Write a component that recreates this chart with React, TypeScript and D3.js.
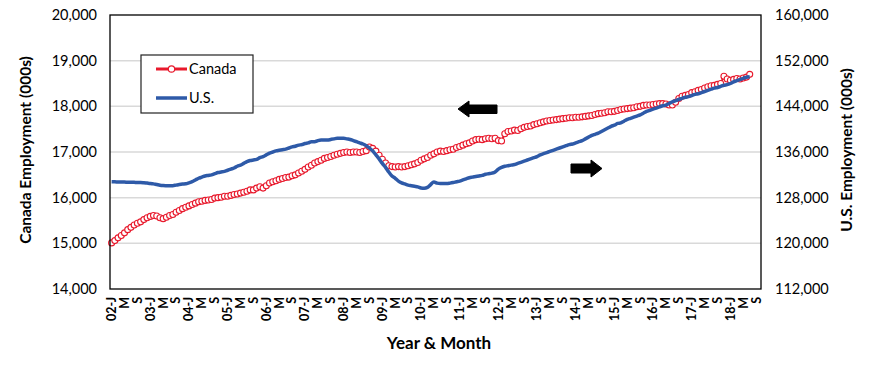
import React, { useEffect, useRef } from "react";
import * as d3 from "d3";

// monthly, Jan 2002 .. Jul 2018 (thousands)
const canada: number[] = [
  15010, 15060, 15120, 15170, 15230, 15300, 15350, 15400, 15440, 15470, 15520, 15560, // 02
  15590, 15610, 15600, 15560, 15540, 15570, 15610, 15630, 15680, 15720, 15760, 15790, // 03
  15820, 15850, 15880, 15910, 15920, 15940, 15950, 15960, 15990, 16000, 16010, 16030, // 04
  16030, 16050, 16070, 16080, 16100, 16120, 16140, 16170, 16170, 16210, 16240, 16210, // 05
  16260, 16320, 16350, 16370, 16400, 16420, 16440, 16450, 16480, 16500, 16540, 16580, // 06
  16620, 16670, 16710, 16760, 16790, 16820, 16860, 16880, 16900, 16930, 16950, 16970, // 07
  16990, 17000, 16990, 17000, 17000, 16990, 17010, 17030, 17110, 17080, 17020, 16930, // 08
  16840, 16760, 16700, 16680, 16670, 16680, 16670, 16680, 16700, 16720, 16740, 16770, // 09
  16820, 16850, 16880, 16930, 16960, 17000, 17020, 17010, 17030, 17050, 17060, 17100, // 10
  17120, 17150, 17180, 17200, 17240, 17270, 17280, 17270, 17290, 17300, 17290, 17300, // 11
  17250, 17240, 17400, 17450, 17460, 17480, 17470, 17510, 17540, 17560, 17570, 17600, // 12
  17620, 17640, 17660, 17680, 17690, 17700, 17710, 17720, 17730, 17740, 17750, 17750, // 13
  17760, 17760, 17770, 17780, 17790, 17800, 17820, 17840, 17850, 17860, 17880, 17880, // 14
  17890, 17910, 17930, 17940, 17950, 17960, 17970, 17990, 18000, 18020, 18030, 18030, // 15
  18040, 18050, 18060, 18060, 18050, 18030, 18030, 18090, 18170, 18220, 18240, 18260, // 16
  18300, 18320, 18350, 18370, 18400, 18430, 18450, 18460, 18480, 18500, 18660, 18600, // 17
  18570, 18590, 18610, 18600, 18620, 18640, 18700, // 18
];

const us: number[] = [
  130800, 130780, 130750, 130730, 130740, 130700, 130700, 130680, 130650, 130660, 130620, 130560, // 02
  130500, 130420, 130300, 130180, 130120, 130100, 130090, 130100, 130200, 130300, 130380, 130430, // 03
  130600, 130800, 131100, 131400, 131600, 131800, 131900, 132000, 132200, 132400, 132500, 132600, // 04
  132800, 133000, 133200, 133500, 133700, 134000, 134300, 134500, 134600, 134700, 135000, 135200, // 05
  135500, 135800, 136000, 136200, 136300, 136400, 136500, 136700, 136900, 137000, 137200, 137300, // 06
  137500, 137600, 137800, 137800, 138000, 138100, 138100, 138100, 138200, 138300, 138400, 138400, // 07
  138400, 138300, 138200, 138000, 137800, 137600, 137400, 137100, 136700, 136200, 135500, 134800, // 08
  134000, 133300, 132500, 131800, 131400, 130900, 130600, 130400, 130200, 130100, 130000, 129900, // 09
  129700, 129650, 129800, 130300, 130750, 130550, 130480, 130500, 130480, 130550, 130650, 130780, // 10
  130900, 131100, 131300, 131500, 131600, 131700, 131800, 131900, 132100, 132200, 132300, 132500, // 11
  133000, 133300, 133500, 133600, 133700, 133800, 134000, 134200, 134400, 134600, 134800, 135000, // 12
  135200, 135500, 135700, 135900, 136100, 136300, 136500, 136700, 136900, 137100, 137300, 137400, // 13
  137600, 137800, 138000, 138300, 138600, 138900, 139100, 139300, 139600, 139900, 140200, 140500, // 14
  140700, 141000, 141100, 141400, 141700, 141900, 142100, 142300, 142500, 142800, 143100, 143300, // 15
  143500, 143700, 143900, 144100, 144200, 144500, 144800, 145000, 145200, 145400, 145600, 145700, // 16
  145900, 146100, 146200, 146400, 146600, 146800, 147000, 147200, 147300, 147500, 147700, 147800, // 17
  148000, 148300, 148500, 148700, 148900, 149100, 149200, // 18
];

const years = ["02", "03", "04", "05", "06", "07", "08", "09", "10", "11", "12", "13", "14", "15", "16", "17", "18"];
const monthLetters = ["J", "F", "M", "A", "M", "J", "J", "A", "S", "O", "N", "D"];
const monthsInLastYear = 10; // axis runs to Oct 2018

const leftTicks = [14000, 15000, 16000, 17000, 18000, 19000, 20000];
const rightTicks = [112000, 120000, 128000, 136000, 144000, 152000, 160000];

const FONT = "Lato, 'Open Sans', sans-serif";

export default function App() {
  const ref = useRef<SVGSVGElement>(null);

  useEffect(() => {
    const node = ref.current;
    if (!node) return;
    const W = 870;
    const H = 365;
    const m = { t: 15, r: 109, b: 76, l: 110 }; // plot 110..761 x 15..289

    const svg = d3.select(node);
    svg.attr("viewBox", `0 0 ${W} ${H}`).selectAll("*").remove();

    // category labels
    const cats: string[] = [];
    years.forEach((yy, yi) => {
      const n = yi === years.length - 1 ? monthsInLastYear : 12;
      for (let k = 0; k < n; k++) cats.push(k === 0 ? `${yy}-J` : monthLetters[k]);
    });
    const idx = cats.map((_, i) => i);

    const x = d3.scaleBand<number>().domain(idx).range([m.l, W - m.r]).padding(0);
    const cx = (i: number) => (x(i) as number) + x.bandwidth() / 2;
    const yL = d3.scaleLinear().domain([14000, 20000]).range([H - m.b, m.t]);
    const yR = d3.scaleLinear().domain([112000, 160000]).range([H - m.b, m.t]);

    const g = svg.append("g").attr("font-family", FONT);

    // gridlines
    g.append("g")
      .selectAll("line")
      .data(leftTicks.slice(1, -1))
      .enter()
      .append("line")
      .attr("x1", m.l)
      .attr("x2", W - m.r)
      .attr("y1", d => yL(d))
      .attr("y2", d => yL(d))
      .attr("stroke", "#d9d9d9")
      .attr("stroke-width", 1.5);

    // left axis
    const la = g
      .append("g")
      .attr("transform", `translate(${m.l},0)`)
      .call(d3.axisLeft(yL).tickValues(leftTicks).tickSize(0).tickPadding(13).tickFormat(d3.format(",")));
    la.select(".domain").remove();
    la.selectAll("text").attr("font-size", 14.5).attr("fill", "#000").attr("font-family", FONT);

    // right axis
    const ra = g
      .append("g")
      .attr("transform", `translate(${W - m.r},0)`)
      .call(d3.axisRight(yR).tickValues(rightTicks).tickSize(0).tickPadding(14).tickFormat(d3.format(",")));
    ra.select(".domain").remove();
    ra.selectAll("text").attr("font-size", 14.5).attr("fill", "#000").attr("font-family", FONT);

    // x labels every 4 months
    const xa = g
      .append("g")
      .attr("transform", `translate(0,${H - m.b})`)
      .call(
        d3
          .axisBottom(x)
          .tickValues(idx.filter(i => i % 4 === 0))
          .tickSize(0)
          .tickFormat(i => cats[i as number])
      );
    xa.select(".domain").remove();
    xa.selectAll("text")
      .attr("font-size", 12.5)
      .attr("font-weight", "bold")
      .attr("fill", "#000")
      .attr("font-family", FONT)
      .attr("text-anchor", "end")
      .attr("transform", "translate(0,8) rotate(-90)")
      .attr("x", 0)
      .attr("y", 0)
      .attr("dy", "0.35em");

    // Canada line + markers
    const lineL = d3
      .line<number>()
      .x((_, i) => cx(i))
      .y(d => yL(d));
    g.append("path")
      .attr("d", lineL(canada) as string)
      .attr("fill", "none")
      .attr("stroke", "#e8192c")
      .attr("stroke-width", 2);
    g.append("g")
      .selectAll("circle")
      .data(canada)
      .enter()
      .append("circle")
      .attr("cx", (_, i) => cx(i))
      .attr("cy", d => yL(d))
      .attr("r", 3)
      .attr("fill", "#fff")
      .attr("stroke", "#e8192c")
      .attr("stroke-width", 1.1);

    // U.S. line (secondary axis)
    const lineR = d3
      .line<number>()
      .x((_, i) => cx(i))
      .y(d => yR(d))
      .curve(d3.curveMonotoneX);
    g.append("path")
      .attr("d", lineR(us) as string)
      .attr("fill", "none")
      .attr("stroke", "#2e5aa8")
      .attr("stroke-width", 3.5)
      .attr("stroke-linejoin", "round");

    // plot frame
    g.append("rect")
      .attr("x", m.l)
      .attr("y", m.t)
      .attr("width", W - m.r - m.l)
      .attr("height", H - m.b - m.t)
      .attr("fill", "none")
      .attr("stroke", "#000")
      .attr("stroke-width", 1.3);

    // legend
    const lg = g.append("g");
    lg.append("rect")
      .attr("x", 141)
      .attr("y", 55)
      .attr("width", 112)
      .attr("height", 58)
      .attr("fill", "#fff")
      .attr("stroke", "#222")
      .attr("stroke-width", 1.2);
    lg.append("line").attr("x1", 156).attr("x2", 187).attr("y1", 69).attr("y2", 69)
      .attr("stroke", "#e8192c").attr("stroke-width", 3);
    lg.append("circle").attr("cx", 171.5).attr("cy", 69).attr("r", 3.2)
      .attr("fill", "#fff").attr("stroke", "#e8192c").attr("stroke-width", 1.2);
    lg.append("text").attr("x", 189).attr("y", 69).attr("dy", "0.35em")
      .attr("font-size", 14.5).text("Canada");
    lg.append("line").attr("x1", 156).attr("x2", 187).attr("y1", 98).attr("y2", 98)
      .attr("stroke", "#2e5aa8").attr("stroke-width", 3.5);
    lg.append("text").attr("x", 189).attr("y", 98).attr("dy", "0.35em")
      .attr("font-size", 14.5).text("U.S.");

    // axis arrows
    g.append("path")
      .attr("d", "M458,109 L469,101 L469,105 L497,105 L497,113.5 L469,113.5 L469,117 Z")
      .attr("fill", "#000")
      .attr("stroke", "#000")
      .attr("stroke-width", 1)
      .attr("stroke-linejoin", "round");
    g.append("path")
      .attr("d", "M602,168.5 L591,160 L591,164 L571,164 L571,173 L591,173 L591,177 Z")
      .attr("fill", "#000")
      .attr("stroke", "#000")
      .attr("stroke-width", 1)
      .attr("stroke-linejoin", "round");

    // titles
    g.append("text")
      .attr("transform", `translate(31,150) rotate(-90)`)
      .attr("text-anchor", "middle")
      .attr("font-size", 15.5)
      .attr("font-weight", "bold")
      .text("Canada Employment (000s)");
    g.append("text")
      .attr("transform", `translate(852,150) rotate(-90)`)
      .attr("text-anchor", "middle")
      .attr("font-size", 15.5)
      .attr("font-weight", "bold")
      .text("U.S. Employment (000s)");
    g.append("text")
      .attr("x", 439)
      .attr("y", 349)
      .attr("text-anchor", "middle")
      .attr("font-size", 17)
      .attr("font-weight", "bold")
      .text("Year & Month");
  }, []);

  return (
    <svg
      ref={ref}
      width={870}
      height={365}
      style={{ position: "absolute", left: 0, top: 0, background: "#fff" }}
    />
  );
}
